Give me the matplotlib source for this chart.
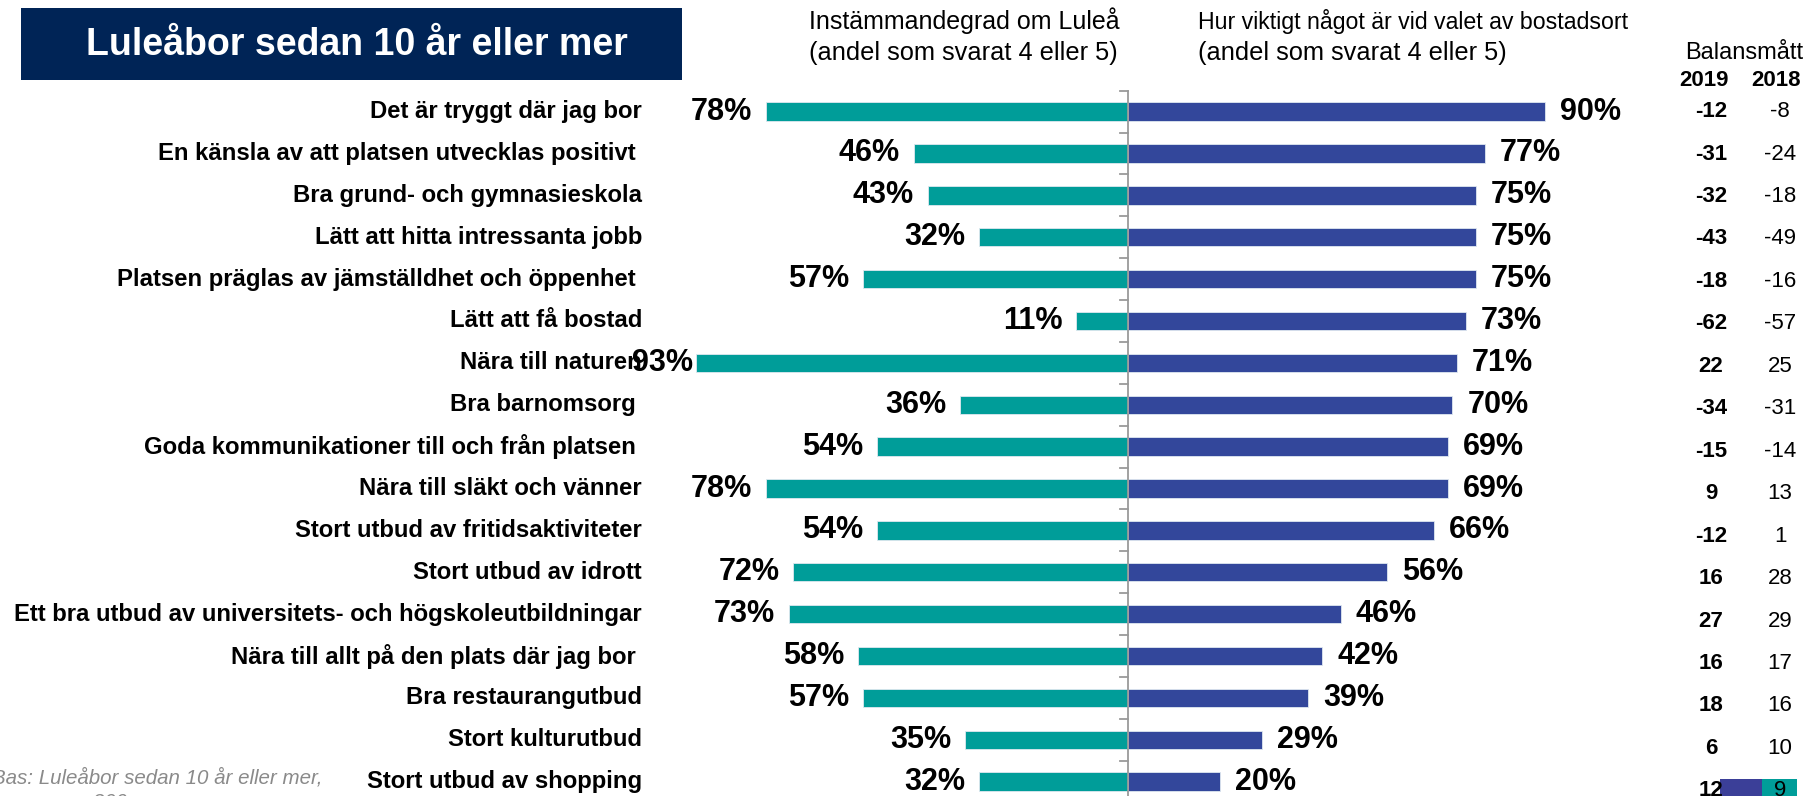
import matplotlib
matplotlib.use("Agg")
import matplotlib.pyplot as plt
from matplotlib.patches import Rectangle
import numpy as np

plt.rcParams['font.family'] = ['Liberation Sans', 'DejaVu Sans']

categories = [
    "Det är tryggt där jag bor",
    "En känsla av att platsen utvecklas positivt ",
    "Bra grund- och gymnasieskola",
    "Lätt att hitta intressanta jobb",
    "Platsen präglas av jämställdhet och öppenhet ",
    "Lätt att få bostad",
    "Nära till naturen",
    "Bra barnomsorg ",
    "Goda kommunikationer till och från platsen ",
    "Nära till släkt och vänner",
    "Stort utbud av fritidsaktiviteter",
    "Stort utbud av idrott",
    "Ett bra utbud av universitets- och högskoleutbildningar",
    "Nära till allt på den plats där jag bor ",
    "Bra restaurangutbud",
    "Stort kulturutbud",
    "Stort utbud av shopping",
]
agree = [78, 46, 43, 32, 57, 11, 93, 36, 54, 78, 54, 72, 73, 58, 57, 35, 32]
importance = [90, 77, 75, 75, 75, 73, 71, 70, 69, 69, 66, 56, 46, 42, 39, 29, 20]
bal_2019 = [-12, -31, -32, -43, -18, -62, 22, -34, -15, 9, -12, 16, 27, 16, 18, 6, 12]
bal_2018 = [-8, -24, -18, -49, -16, -57, 25, -31, -14, 13, 1, 28, 29, 17, 16, 10, 9]

TEAL = "#009D99"
BLUE = "#33479B"
NAVY = "#002456"

W, H = 1804, 796
fig = plt.figure(figsize=(W / 100, H / 100), dpi=100)

def fx(x):
    return x / W

def fy(y):
    return 1 - y / H

# axes placement (pixels)
center_px = 1127.5
ppp = 4.64  # pixels per percent
row0 = 111.6
rowsp = 41.88
top_px = row0 - 0.5 * rowsp
ax_left = center_px - 100 * ppp
ax = fig.add_axes([fx(ax_left), 0, (200 * ppp) / W, (H - top_px) / H])
ax.set_xlim(-100, 100)
ax.set_ylim(-0.5 + (H - top_px) / rowsp, -0.5)
ax.axis('off')

n = len(categories)
y = np.arange(n)
ax.barh(y, [-v for v in agree], height=0.44, color=TEAL, edgecolor="#dfe8f0", linewidth=0.6)
ax.barh(y, importance, height=0.44, color=BLUE, edgecolor="#dfe8f0", linewidth=0.6)

# center axis line with ticks
ax.plot([0, 0], [-0.5, 17], color="#9a9a9a", lw=1.3, clip_on=False)
tick_len = 8 / ppp
for b in np.arange(-0.5, n, 1.0):
    ax.plot([-tick_len, 0], [b, b], color="#9a9a9a", lw=1.3, clip_on=False)

for i in range(n):
    off = -14 if agree[i] < 90 else -3
    ax.annotate(f"{agree[i]}%", xy=(-agree[i], i), xytext=(off, 0), textcoords="offset pixels",
                ha="right", va="center", fontsize=22, fontweight="bold", clip_on=False)
    ax.annotate(f"{importance[i]}%", xy=(importance[i], i), xytext=(15, 0), textcoords="offset pixels",
                ha="left", va="center", fontsize=22, fontweight="bold", clip_on=False)
    ax.annotate(categories[i], xy=(-100, i), xytext=(642 - ax_left, 0), textcoords="offset pixels",
                ha="right", va="center", fontsize=17.2, fontweight="bold", clip_on=False)
    yb = i * 1.0137
    ax.annotate(str(bal_2019[i]), xy=(-100, yb), xytext=(1711 - ax_left, 0), textcoords="offset pixels",
                ha="center", va="center", fontsize=16, fontweight="bold", clip_on=False)
    ax.annotate(str(bal_2018[i]), xy=(-100, yb), xytext=(1780 - ax_left, 0), textcoords="offset pixels",
                ha="center", va="center", fontsize=16, clip_on=False)

# title box
fig.patches.append(Rectangle((fx(21), fy(80)), fx(682) - fx(21), (80 - 8) / H,
                             transform=fig.transFigure, facecolor=NAVY, edgecolor="none", zorder=-1))
fig.text(fx(357), fy(45), "Luleåbor sedan 10 år eller mer", ha="center", va="center",
         color="white", fontsize=27, fontweight="bold")

# headers
fig.text(fx(809), fy(21), "Instämmandegrad om Luleå", ha="left", va="center", fontsize=18)
fig.text(fx(809), fy(53), "(andel som svarat 4 eller 5)", ha="left", va="center", fontsize=18.3)
fig.text(fx(1198), fy(21), "Hur viktigt något är vid valet av bostadsort", ha="left", va="center", fontsize=16.7)
fig.text(fx(1198), fy(53), "(andel som svarat 4 eller 5)", ha="left", va="center", fontsize=18.3)
fig.text(fx(1803), fy(53), "Balansmått", ha="right", va="center", fontsize=17)
fig.text(fx(1704), fy(81), "2019", ha="center", va="center", fontsize=16, fontweight="bold")
fig.text(fx(1776), fy(81), "2018", ha="center", va="center", fontsize=16, fontweight="bold")

# footnote (cut at edges)
fig.text(fx(322), fy(778), "Bas: Luleåbor sedan 10 år eller mer,", ha="right", va="center",
         fontsize=14.8, style="italic", color="#8a8a8a")
fig.text(fx(58), fy(803), "n = 300", ha="left", va="center",
         fontsize=14.8, style="italic", color="#8a8a8a")

# logo fragment bottom right
fig.patches.append(Rectangle((fx(1720), 0), (1762 - 1720) / W, (796 - 779) / H,
                             transform=fig.transFigure, facecolor="#3b3f98", edgecolor="none", zorder=-1))
fig.patches.append(Rectangle((fx(1762), 0), (1797 - 1762) / W, (796 - 779) / H,
                             transform=fig.transFigure, facecolor=TEAL, edgecolor="none", zorder=-1))

fig.savefig("out.png", dpi=100)
